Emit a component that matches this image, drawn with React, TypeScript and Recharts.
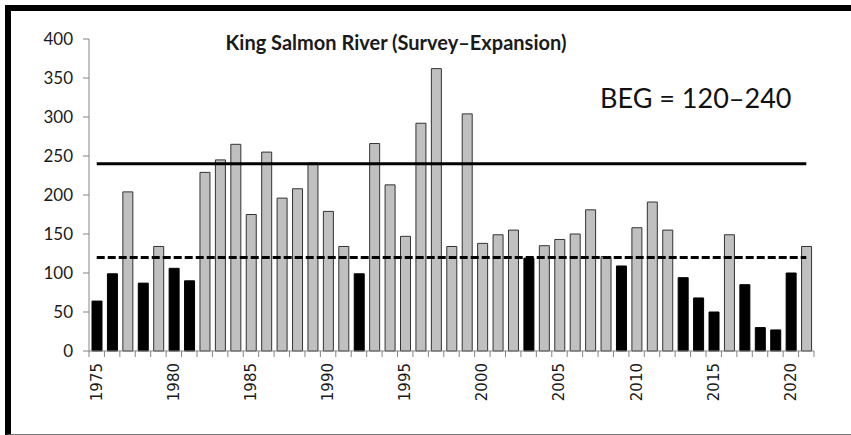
// King Salmon River escapement (survey-expansion) with BEG range

import { BarChart, Bar, Cell, XAxis, YAxis, ReferenceLine } from "recharts";

const years = [
  1975, 1976, 1977, 1978, 1979, 1980, 1981, 1982, 1983, 1984, 1985, 1986,
  1987, 1988, 1989, 1990, 1991, 1992, 1993, 1994, 1995, 1996, 1997, 1998,
  1999, 2000, 2001, 2002, 2003, 2004, 2005, 2006, 2007, 2008, 2009, 2010,
  2011, 2012, 2013, 2014, 2015, 2016, 2017, 2018, 2019, 2020, 2021,
];

const escapement = [
  64, 99, 204, 87, 134, 106, 90, 229, 245, 265, 175, 255,
  196, 208, 241, 179, 134, 99, 266, 213, 147, 292, 362, 134,
  304, 138, 149, 155, 119, 135, 143, 150, 181, 121, 109, 158,
  191, 155, 94, 68, 50, 149, 85, 30, 27, 100, 134,
];

const yTicks = [0, 50, 100, 150, 200, 250, 300, 350, 400];

const BEG_LOWER = 120;
const BEG_UPPER = 240;

const data = years.map((year, i) => ({ year, value: escapement[i] }));

const W = 851;
const H = 435;
const LEFT = 89;
const RIGHT = 37;
const STEP = (W - LEFT - RIGHT) / years.length;
const AXIS_GREY = "#858585";

function YearTick(props: any) {
  const { x, y, payload, index } = props;
  const year = payload.value;
  return (
    <g>
      <line x1={x - STEP / 2} x2={x - STEP / 2} y1={y} y2={y + 6} stroke={AXIS_GREY} />
      {index === years.length - 1 && (
        <line x1={x + STEP / 2} x2={x + STEP / 2} y1={y} y2={y + 6} stroke={AXIS_GREY} />
      )}
      {year % 5 === 0 && (
        <text
          x={x}
          y={y + 12}
          transform={`rotate(-90, ${x}, ${y + 12})`}
          textAnchor="end"
          dominantBaseline="central"
          fontFamily="DejaVu Sans"
          fontSize={15}
          fill="#1a1a1a"
        >
          {year}
        </text>
      )}
    </g>
  );
}

export default function App() {
  return (
    <div style={{ position: "absolute", left: 0, top: 0, width: W, height: H, background: "#fff" }}>
      <div
        style={{
          position: "absolute",
          left: 5,
          top: 5,
          width: W - 11,
          height: H - 12,
          borderTop: "6px solid #000",
          borderLeft: "6px solid #000",
          borderBottom: "1px solid #777",
        }}
      />
      <BarChart
        width={W}
        height={H}
        data={data}
        margin={{ top: 39, right: RIGHT, bottom: 0, left: 0 }}
        barSize={10}
      >
        <XAxis
          dataKey="year"
          interval={0}
          height={H - 351}
          tickLine={false}
          tickSize={0}
          tickMargin={0}
          stroke={AXIS_GREY}
          tick={<YearTick />}
        />
        <YAxis
          width={LEFT}
          domain={[0, 400]}
          ticks={yTicks}
          interval={0}
          tickSize={6}
          tickMargin={10}
          stroke={AXIS_GREY}
          tick={{ fill: "#1a1a1a", fontSize: 17, fontFamily: "Lato" }}
        />
        <Bar dataKey="value" isAnimationActive={false} stroke="#333" strokeWidth={1}>
          {data.map((d, i) => (
            <Cell
              key={`cell-${i}`}
              fill={d.value < BEG_LOWER ? "#000" : "#c0c0c0"}
              stroke={d.value < BEG_LOWER ? "#000" : "#333"}
            />
          ))}
        </Bar>
        <ReferenceLine
          segment={[
            { x: years[0], y: BEG_UPPER },
            { x: years[years.length - 1], y: BEG_UPPER },
          ]}
          stroke="#000"
          strokeWidth={3}
          ifOverflow="visible"
        />
        <ReferenceLine
          segment={[
            { x: years[0], y: BEG_LOWER },
            { x: years[years.length - 1], y: BEG_LOWER },
          ]}
          stroke="#000"
          strokeWidth={3}
          strokeDasharray="8 3"
          ifOverflow="visible"
        />
      </BarChart>
      <div
        style={{
          position: "absolute",
          left: 0,
          width: 792,
          top: 30,
          textAlign: "center",
          fontFamily: "Lato",
          fontWeight: 700,
          fontSize: 20,
          color: "#1a1a1a",
          whiteSpace: "nowrap",
        }}
      >
        King Salmon River (Survey–Expansion)
      </div>
      <div
        style={{
          position: "absolute",
          left: 600,
          top: 81,
          fontFamily: "Lato",
          fontSize: 27,
          color: "#111",
          whiteSpace: "nowrap",
        }}
      >
        BEG = 120–240
      </div>
    </div>
  );
}
